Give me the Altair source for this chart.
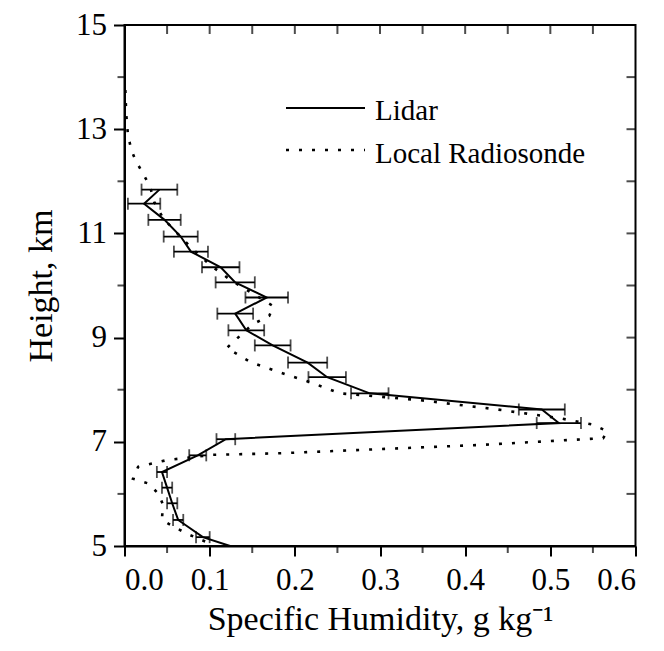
import altair as alt
import pandas as pd

# ---- data ----
lidar_q = [0.041, 0.023, 0.047, 0.066, 0.078, 0.113, 0.130, 0.167, 0.130, 0.143,
           0.174, 0.215, 0.238, 0.288, 0.490, 0.510, 0.119, 0.086, 0.044, 0.050,
           0.056, 0.063, 0.092, 0.124]
lidar_h = [11.84, 11.57, 11.26, 10.94, 10.65, 10.35, 10.06, 9.77, 9.46, 9.14,
           8.85, 8.52, 8.24, 7.93, 7.62, 7.36, 7.05, 6.74, 6.42, 6.12,
           5.82, 5.50, 5.17, 5.00]
lidar_err = [0.021, 0.019, 0.019, 0.020, 0.020, 0.022, 0.023, 0.025, 0.021, 0.021,
             0.021, 0.023, 0.022, 0.022, 0.027, 0.026, 0.011, 0.010, 0.006, 0.006,
             0.006, 0.006, 0.008, 0.0]

sonde_q = [0.001, 0.002, 0.004, 0.008, 0.013, 0.020, 0.030, 0.035, 0.045, 0.062,
           0.080, 0.100, 0.125, 0.150, 0.175, 0.170, 0.150, 0.120, 0.148, 0.183,
           0.222, 0.253, 0.347, 0.438, 0.512, 0.550, 0.567, 0.562, 0.418, 0.300,
           0.183, 0.104, 0.050, 0.016, 0.010, 0.028, 0.040, 0.045, 0.044, 0.060,
           0.077, 0.100]
sonde_h = [13.75, 13.30, 12.90, 12.60, 12.40, 12.20, 11.90, 11.60, 11.30, 11.00,
           10.70, 10.40, 10.10, 9.85, 9.60, 9.42, 9.25, 8.80, 8.53, 8.33,
           8.12, 7.93, 7.80, 7.62, 7.45, 7.33, 7.20, 7.07, 6.94, 6.86,
           6.78, 6.75, 6.65, 6.52, 6.29, 6.20, 6.00, 5.80, 5.50, 5.35,
           5.21, 5.05]

x_major = [0.0, 0.1, 0.2, 0.3, 0.4, 0.5, 0.6]
x_minor = [0.05, 0.15, 0.25, 0.35, 0.45, 0.55]
x_all = [0.05, 0.1, 0.15, 0.2, 0.25, 0.3, 0.35, 0.4, 0.45, 0.5, 0.55]
y_major = [5, 7, 9, 11, 13, 15]
y_minor = [6, 8, 10, 12, 14]
y_all = [6, 7, 8, 9, 10, 11, 12, 13, 14]

series_names = ["Lidar", "Local Radiosonde"]

W, H = 511, 521
FONT = "Liberation Serif"

lidar = pd.DataFrame({
    "q": lidar_q, "h": lidar_h, "idx": list(range(len(lidar_q))),
    "lo": [q - e for q, e in zip(lidar_q, lidar_err)],
    "hi": [q + e for q, e in zip(lidar_q, lidar_err)],
})
lidar_bars = lidar[lidar["hi"] > lidar["lo"]]
sonde = pd.DataFrame({"q": sonde_q, "h": sonde_h, "idx": list(range(len(sonde_q)))})

xs = alt.Scale(domain=[0, 0.6], nice=False, zero=False)
ys = alt.Scale(domain=[5, 15], nice=False, zero=False)

x_axis = alt.Axis(values=x_major, format=".1f", tickSize=10, tickWidth=2,
                  labelPadding=9, titlePadding=7, grid=False)
y_axis = alt.Axis(values=y_major, format="d", tickSize=11, tickWidth=2,
                  labelPadding=7, titlePadding=17, grid=False)

lidar_line = alt.Chart(lidar).mark_line(color="black", strokeWidth=2).encode(
    x=alt.X("q:Q", scale=xs, axis=x_axis, title="Specific Humidity, g kg\u207b\u00b9"),
    y=alt.Y("h:Q", scale=ys, axis=y_axis, title="Height, km"),
    order="idx:Q",
)

sonde_line = alt.Chart(sonde).mark_line(color="black", strokeWidth=2.6,
                                        strokeDash=[3, 10]).encode(
    x=alt.X("q:Q", scale=xs), y=alt.Y("h:Q", scale=ys), order="idx:Q")

bars = alt.Chart(lidar_bars).mark_rule(color="black", strokeWidth=1.8).encode(
    x=alt.X("lo:Q", scale=xs), x2="hi:Q", y=alt.Y("h:Q", scale=ys))
cap_lo = alt.Chart(lidar_bars).mark_tick(color="black", thickness=1.8, size=12).encode(
    x=alt.X("lo:Q", scale=xs), y=alt.Y("h:Q", scale=ys))
cap_hi = alt.Chart(lidar_bars).mark_tick(color="black", thickness=1.8, size=12).encode(
    x=alt.X("hi:Q", scale=xs), y=alt.Y("h:Q", scale=ys))

# minor / mirrored ticks
bot_minor = alt.Chart(pd.DataFrame({"v": x_minor})).mark_tick(
    color="black", thickness=2, size=7).encode(x=alt.X("v:Q", scale=xs), y=alt.value(H + 3.5))
top_in = alt.Chart(pd.DataFrame({"v": x_all})).mark_tick(
    color="black", thickness=2, size=9).encode(x=alt.X("v:Q", scale=xs), y=alt.value(4.5))
left_minor = alt.Chart(pd.DataFrame({"v": y_minor})).mark_tick(
    color="black", thickness=2, size=7, orient="horizontal").encode(
    y=alt.Y("v:Q", scale=ys), x=alt.value(-3.5))
right_in = alt.Chart(pd.DataFrame({"v": y_all})).mark_tick(
    color="black", thickness=2, size=9, orient="horizontal").encode(
    y=alt.Y("v:Q", scale=ys), x=alt.value(W - 4.5))

# legend
leg = pd.DataFrame({"name": series_names, "row": [0, 1]})
leg_solid = alt.Chart(leg[leg["row"] == 0]).mark_rule(color="black", strokeWidth=2).encode(
    x=alt.value(161.5), x2=alt.value(240.5), y=alt.value(83))
leg_dot = alt.Chart(leg[leg["row"] == 1]).mark_rule(color="black", strokeWidth=2.6,
                                                     strokeDash=[3, 10]).encode(
    x=alt.value(161.5), x2=alt.value(240.5), y=alt.value(125))
leg_text1 = alt.Chart(leg[leg["row"] == 0]).mark_text(
    align="left", baseline="middle", font=FONT, fontSize=29, color="black").encode(
    x=alt.value(250.5), y=alt.value(86), text="name:N")
leg_text2 = alt.Chart(leg[leg["row"] == 1]).mark_text(
    align="left", baseline="middle", font=FONT, fontSize=29, color="black").encode(
    x=alt.value(250.5), y=alt.value(129), text="name:N")

chart = alt.layer(
    sonde_line, bars, cap_lo, cap_hi, lidar_line,
    bot_minor, top_in, left_minor, right_in,
    leg_solid, leg_dot, leg_text1, leg_text2,
).properties(
    width=W, height=H,
    autosize=alt.AutoSizeParams(type="none"),
    padding={"left": 116.5, "top": 17, "right": 20, "bottom": 95},
    background="white",
).configure_view(
    stroke="black", strokeWidth=2
).configure_axis(
    labelFont=FONT, titleFont=FONT, labelFontSize=31, titleFontSize=34,
    labelColor="black", titleColor="black", domainColor="black", domainWidth=2,
    tickColor="black", labelFontWeight="normal", titleFontWeight="normal",
)

chart.save("out.html", embed_options={"renderer": "svg", "actions": False})
